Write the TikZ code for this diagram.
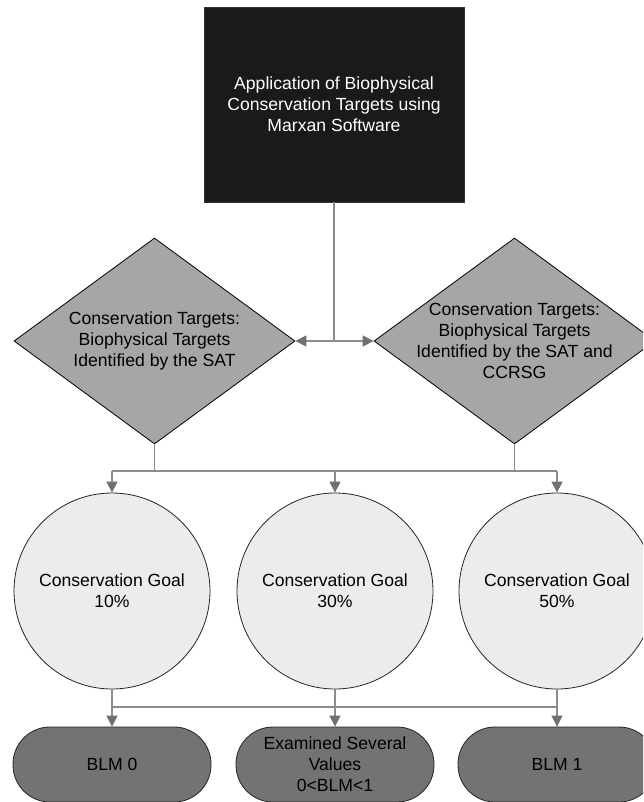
\documentclass[tikz,border=0pt]{standalone}
\usepackage{fontspec}
\setmainfont{Liberation Sans}
\usetikzlibrary{shapes.geometric,arrows.meta}
\definecolor{topfill}{HTML}{1A1A1A}
\definecolor{diafill}{HTML}{A6A6A6}
\definecolor{circfill}{HTML}{ECECEC}
\definecolor{endfill}{HTML}{737373}
\definecolor{conncol}{HTML}{8C8C8C}
\definecolor{tipcol}{HTML}{707070}
\begin{document}
\begin{tikzpicture}[x=1pt,y=-1pt,
  txt/.style={font=\fontsize{17.6}{21}\selectfont, align=center},
  topbox/.style={rectangle, draw=black!80, line width=0.8pt, fill=topfill,
    minimum width=260pt, minimum height=195pt, inner sep=0pt, text=white, txt},
  diam/.style={diamond, draw=black, line width=0.8pt, fill=diafill,
    minimum width=281pt, minimum height=206pt, inner sep=0pt},
  goal/.style={circle, draw=black!85, line width=0.8pt, fill=circfill,
    minimum size=196pt, inner sep=0pt, txt},
  endbox/.style={rectangle, rounded corners=37pt, draw=black!85, line width=0.8pt,
    fill=endfill, minimum width=198pt, minimum height=75pt, inner sep=0pt, txt},
  conn/.style={draw=conncol, line width=1.3pt},
  arr/.style={-{Triangle[width=11pt,length=11pt,color=tipcol]}}
]
\useasboundingbox (0,0) rectangle (643,802);
\clip (0,0) rectangle (643,802);

\node[topbox] (top) at (334,104.5) {Application of Biophysical\\Conservation Targets using\\Marxan Software};

\node[diam, label={[txt]center:Conservation Targets:\\Biophysical Targets\\Identified by the SAT}] (d1) at (154.5,341) {};
\node[diam, label={[txt]center:Conservation Targets:\\Biophysical Targets\\Identified by the SAT and\\CCRSG}] (d2) at (514.5,341) {};

\node[goal] (c1) at (112,591) {Conservation Goal\\10\%};
\node[goal] (c2) at (335,591) {Conservation Goal\\30\%};
\node[goal] (c3) at (557,591) {Conservation Goal\\50\%};

\node[endbox] (e1) at (112,764.5) {BLM 0};
\node[endbox] (e2) at (335,764.5) {Examined Several\\Values\\0<BLM<1};
\node[endbox] (e3) at (557,764.5) {BLM 1};

\coordinate (j) at (334,341);
\coordinate (r1) at (0,471);
\coordinate (r2) at (0,707);

\draw[conn] (top.south) -- (j);
\draw[conn,arr] (j) -- (d1.east);
\draw[conn,arr] (j) -- (d2.west);

\draw[conn] (d1.south) -- (d1.south |- r1);
\draw[conn] (d2.south) -- (d2.south |- r1);
\draw[conn] (c1.north |- r1) -- (c3.north |- r1);
\foreach \n in {c1,c2,c3} {
  \draw[conn,arr] (\n.north |- r1) -- (\n.north);
}
\draw[conn] (c1.south |- r2) -- (c3.south |- r2);
\foreach \a/\b in {c1/e1,c2/e2,c3/e3} {
  \draw[conn] (\a.south) -- (\a.south |- r2);
  \draw[conn,arr] (\a.south |- r2) -- (\b.north);
}
\end{tikzpicture}
\end{document}
